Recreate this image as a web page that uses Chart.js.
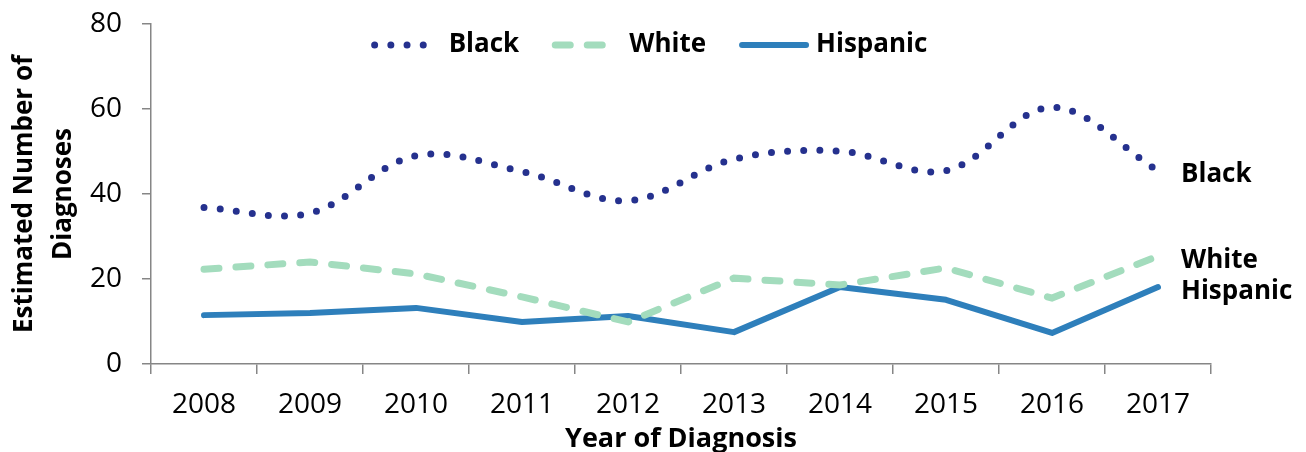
<!DOCTYPE html>
<html>
<head>
<meta charset="UTF-8">
<title>Estimated Number of Diagnoses</title>
<script src="https://cdn.jsdelivr.net/npm/chart.js"></script>
<style>
  *{padding: 0; margin: 0;}
  body{background: #fff;}
  #wrap{width: 1306px; height: 452px;}
</style>
</head>
<body>
<div id="wrap"><canvas id="myChart" width="1306" height="452"></canvas></div>
<script>
// data
const years = ['2008', '2009', '2010', '2011', '2012', '2013', '2014', '2015', '2016', '2017'];
const black = [36.8, 35.5, 49.0, 45.3, 38.4, 48.2, 50.1, 45.5, 60.4, 45.5];
const white = [22.3, 24.0, 21.2, 15.8, 9.9, 20.2, 18.6, 22.6, 15.5, 25.4];
const hispanic = [11.5, 12.0, 13.2, 9.9, 11.3, 7.5, 18.1, 15.1, 7.3, 18.1];
const seriesNames = ['Black', 'White', 'Hispanic'];
const yTicks = [0, 20, 40, 60, 80];

const FONT = "'Open Sans', 'Liberation Sans', sans-serif";

// legend drawn inside the plot, plus end-of-line labels
const extraText = {
  id: 'extraText',
  afterDraw(chart) {
    const ctx = chart.ctx;
    const sets = chart.data.datasets;
    ctx.save();
    ctx.font = 'bold 26px ' + FONT;
    ctx.textBaseline = 'middle';
    ctx.fillStyle = '#000';

    // legend
    const sample = 70, gapText = 8, gapItem = 32;
    let total = 0;
    sets.forEach((ds, i) => {
      total += sample + gapText + ctx.measureText(ds.label).width;
      if (i < sets.length - 1) total += gapItem;
    });
    let x = chart.width / 2 - total / 2 - 4;
    const ly = 45;
    sets.forEach(ds => {
      ctx.save();
      ctx.strokeStyle = ds.borderColor;
      ctx.lineWidth = ds.borderWidth;
      ctx.lineCap = ds.borderCapStyle;
      ctx.setLineDash(ds.borderDash || []);
      ctx.beginPath();
      ctx.moveTo(x + 4, ly);
      ctx.lineTo(x + sample - 2, ly);
      ctx.stroke();
      ctx.restore();
      x += sample + gapText;
      ctx.fillText(ds.label, x, ly);
      x += ctx.measureText(ds.label).width + gapItem;
    });

    // labels at line ends
    const offs = [4, 5, 5];
    sets.forEach((ds, i) => {
      const pts = chart.getDatasetMeta(i).data;
      const p = pts[pts.length - 1];
      ctx.fillText(ds.label, p.x + 23, p.y + offs[i]);
    });
    ctx.restore();
  }
};

new Chart(document.getElementById('myChart'), {
  type: 'line',
  data: {
    labels: years,
    datasets: [{
      label: seriesNames[0],
      data: black,
      borderColor: '#25318e',
      borderWidth: 7,
      borderDash: [0, 16.2],
      borderCapStyle: 'round',
      tension: 0.35,
      pointRadius: 0
    }, {
      label: seriesNames[1],
      data: white,
      borderColor: '#a3dcbd',
      borderWidth: 7,
      borderDash: [15, 17],
      borderCapStyle: 'round',
      tension: 0,
      pointRadius: 0
    }, {
      label: seriesNames[2],
      data: hispanic,
      borderColor: '#2e7fbb',
      borderWidth: 6,
      borderCapStyle: 'round',
      borderJoinStyle: 'round',
      tension: 0,
      pointRadius: 0
    }]
  },
  options: {
    responsive: false,
    animation: false,
    layout: {padding: {top: 24, right: 95, left: 0, bottom: 0}},
    plugins: {
      legend: {display: false},
      tooltip: {enabled: false}
    },
    scales: {
      x: {
        offset: true,
        grid: {
          offset: true,
          drawOnChartArea: false,
          color: '#868686',
          lineWidth: 1.5,
          tickLength: 10
        },
        border: {color: '#868686', width: 1.5},
        ticks: {
          color: '#000',
          font: {family: FONT, size: 28},
          padding: 14,
          maxRotation: 0
        },
        title: {
          display: true,
          text: 'Year of Diagnosis',
          color: '#000',
          font: {family: FONT, size: 27, weight: 'bold'},
          padding: {top: 0, bottom: -4}
        },
        afterFit(scale) { scale.height = 88; }
      },
      y: {
        min: 0,
        max: 80,
        afterBuildTicks(scale) { scale.ticks = yTicks.map(v => ({value: v})); },
        grid: {
          drawOnChartArea: false,
          color: '#868686',
          lineWidth: 1.5,
          tickLength: 9
        },
        border: {color: '#868686', width: 1.5},
        ticks: {
          color: '#000',
          font: {family: FONT, size: 28, lineHeight: 0.25},
          padding: 20
        },
        title: {
          display: true,
          text: ['Estimated Number of', 'Diagnoses'],
          color: '#000',
          font: {family: FONT, size: 26, weight: 'bold', lineHeight: 1.5},
          padding: {top: 5, bottom: 0}
        },
        afterFit(scale) { scale.width = 151; }
      }
    }
  },
  plugins: [extraText]
});
</script>
</body>
</html>
